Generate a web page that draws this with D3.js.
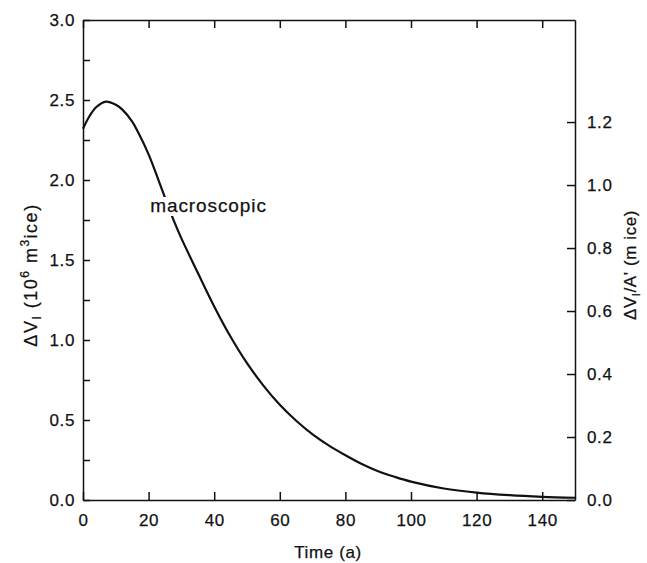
<!DOCTYPE html>
<html>
<head>
<meta charset="utf-8">
<script src="https://cdn.jsdelivr.net/npm/d3@7"></script>
<style>
  body { margin: 0; background: #fff; }
  text { font-family: "Liberation Sans", Arial, sans-serif; fill: #111; stroke: #111; stroke-width: 0.25px; }
  .axis path, .axis line { stroke: #111; stroke-width: 1.5; }
  .axis text { font-size: 17px; letter-spacing: 0.6px; }
</style>
</head>
<body>
<div id="chart-area"></div>
<script>
// values
var timeA = [0, 2, 4, 7, 10, 12, 15, 17, 20, 22, 25, 28, 30, 35, 40, 45, 50, 55, 60, 65, 70, 75, 80, 85, 90, 95, 100, 110, 120, 130, 140, 150];
var volume = [2.32, 2.40, 2.455, 2.49, 2.47, 2.44, 2.365, 2.29, 2.16, 2.055, 1.89, 1.73, 1.635, 1.42, 1.21, 1.02, 0.855, 0.715, 0.595, 0.495, 0.41, 0.34, 0.28, 0.225, 0.18, 0.145, 0.115, 0.072, 0.046, 0.03, 0.02, 0.014];

var xTicks = [0, 20, 40, 60, 80, 100, 120, 140];
var yTicks = [0, 0.25, 0.5, 0.75, 1, 1.25, 1.5, 1.75, 2, 2.25, 2.5, 2.75, 3];
var rightTicks = [0, 0.2, 0.4, 0.6, 0.8, 1.0, 1.2];
var rightMax = 1.524; // right axis value at top of plot

var margin = { left: 83, right: 72, top: 20, bottom: 63 };
var width = 647 - margin.left - margin.right;
var height = 563 - margin.top - margin.bottom;

var svg = d3.select("#chart-area")
    .append("svg")
        .attr("width", 647)
        .attr("height", 563);

var g = svg.append("g")
        .attr("transform", "translate(" + margin.left + "," + margin.top + ")");

var xscale = d3.scaleLinear().domain([0, 150]).range([0, width]);
var yscale = d3.scaleLinear().domain([0, 3]).range([height, 0]);
var yright = d3.scaleLinear().domain([0, rightMax]).range([height, 0]);

// axes, ticks pointing inward
g.append("g")
    .attr("class", "axis")
    .attr("transform", "translate(0," + height + ")")
    .call(d3.axisBottom(xscale).tickValues(xTicks).tickSize(-8).tickSizeOuter(0).tickPadding(14).tickFormat(d3.format("d")));

g.append("g")
    .attr("class", "axis")
    .call(d3.axisTop(xscale).tickValues(xTicks).tickSize(-8).tickSizeOuter(0).tickFormat(""));

g.append("g")
    .attr("class", "axis")
    .call(d3.axisLeft(yscale).tickValues(yTicks).tickSize(-7).tickSizeOuter(0).tickPadding(8)
        .tickFormat(function(d){ return (d * 2) % 1 === 0 ? d3.format(".1f")(d) : ""; }));

g.append("g")
    .attr("class", "axis")
    .attr("transform", "translate(" + width + ",0)")
    .call(d3.axisRight(yright).tickValues(rightTicks).tickSize(-8).tickSizeOuter(0).tickPadding(12).tickFormat(d3.format(".1f")));

// curve
var line = d3.line()
    .x(function(d, i){ return xscale(timeA[i]); })
    .y(function(d){ return yscale(d); })
    .curve(d3.curveCatmullRom.alpha(0.5));

g.append("path")
    .datum(volume)
    .attr("fill", "none")
    .attr("stroke", "#111")
    .attr("stroke-width", 2.2)
    .attr("d", line);

// label on the curve, with a white gap behind it
var lab = g.append("text")
    .attr("x", xscale(20.5))
    .attr("y", yscale(1.80))
    .attr("font-size", "19px")
    .attr("letter-spacing", "0.9px")
    .text("macroscopic");
var bb = lab.node().getBBox();
g.insert("rect", function(){ return lab.node(); })
    .attr("x", bb.x - 2).attr("y", bb.y + 2)
    .attr("width", bb.width + 4).attr("height", bb.height - 2)
    .attr("fill", "#fff");

// axis titles
svg.append("text")
    .attr("x", 328)
    .attr("y", 558)
    .attr("text-anchor", "middle")
    .attr("font-size", "17px")
    .attr("letter-spacing", "0.6px")
    .text("Time (a)");

var lt = svg.append("text")
    .attr("transform", "translate(37,275) rotate(-90)")
    .attr("text-anchor", "middle")
    .attr("font-size", "18px")
    .attr("letter-spacing", "1.5px");
lt.append("tspan").text("\u0394V");
lt.append("tspan").attr("font-size", "12px").attr("dy", 4).text("I");
lt.append("tspan").attr("dy", -4).text(" (10");
lt.append("tspan").attr("font-size", "12px").attr("dy", -8).text("6");
lt.append("tspan").attr("dy", 8).text(" m");
lt.append("tspan").attr("font-size", "12px").attr("dy", -8).text("3");
lt.append("tspan").attr("dy", 8).text("ice)");

var rt = svg.append("text")
    .attr("transform", "translate(636,265) rotate(-90)")
    .attr("text-anchor", "middle")
    .attr("font-size", "17px")
    .attr("letter-spacing", "0.6px");
rt.append("tspan").text("\u0394V");
rt.append("tspan").attr("font-size", "11px").attr("dy", 4).text("I");
rt.append("tspan").attr("dy", -4).text("/A' (m ice)");
</script>
</body>
</html>
